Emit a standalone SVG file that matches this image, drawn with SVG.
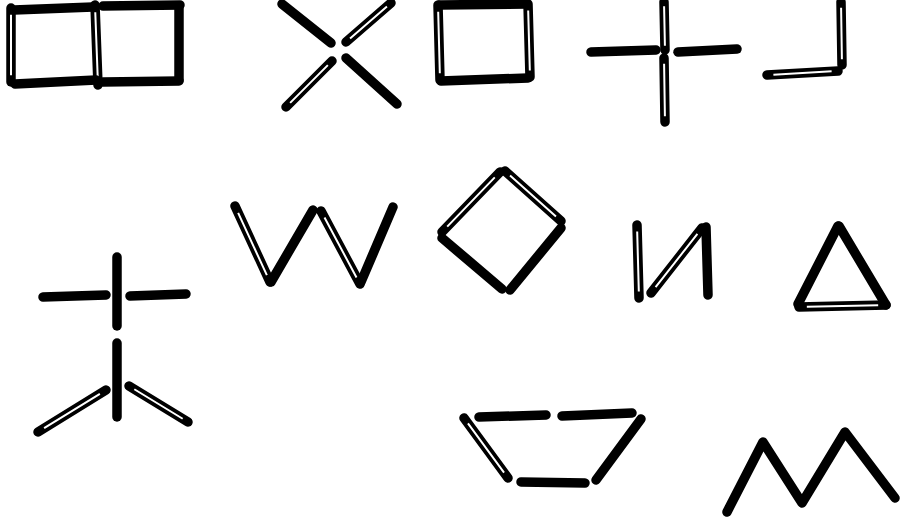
<svg xmlns="http://www.w3.org/2000/svg" width="902" height="525" viewBox="0 0 902 525">
<style>
.s{stroke:#000;stroke-width:9.5;stroke-linecap:round;fill:none}
.h{stroke:#fff;stroke-width:2;stroke-linecap:butt;fill:none;stroke-dasharray:0 9 82 9}
</style>
<rect width="902" height="525" fill="#fff"/>
<g id="double-square">
<line class="s" x1="11" y1="8" x2="11" y2="82"/><line class="h" pathLength="100" x1="11" y1="8" x2="11" y2="82"/>
<line class="s" x1="14" y1="10" x2="93" y2="7"/>
<line class="s" x1="95" y1="5" x2="98" y2="85"/><line class="h" pathLength="100" x1="95" y1="5" x2="98" y2="85"/>
<line class="s" x1="15" y1="84" x2="96" y2="80"/>
<line class="s" x1="103" y1="6" x2="180" y2="5"/>
<line class="s" x1="179" y1="6" x2="179" y2="80"/>
<line class="s" x1="103" y1="82" x2="179" y2="81"/>
</g>
<g id="cross-x">
<line class="s" x1="282" y1="4" x2="331" y2="43"/>
<line class="s" x1="346" y1="42" x2="391" y2="3"/><line class="h" pathLength="100" x1="346" y1="42" x2="391" y2="3"/>
<line class="s" x1="332" y1="61" x2="286" y2="107"/><line class="h" pathLength="100" x1="332" y1="61" x2="286" y2="107"/>
<line class="s" x1="346" y1="58" x2="397" y2="104"/>
</g>
<g id="square">
<line class="s" x1="438" y1="5" x2="440" y2="80"/><line class="h" pathLength="100" x1="438" y1="5" x2="440" y2="80"/>
<line class="s" x1="440" y1="5" x2="527" y2="4"/>
<line class="s" x1="528" y1="4" x2="530" y2="77"/><line class="h" pathLength="100" x1="528" y1="4" x2="530" y2="77"/>
<line class="s" x1="441" y1="81" x2="528" y2="78"/>
</g>
<g id="plus">
<line class="s" x1="664" y1="2" x2="665" y2="50"/><line class="h" pathLength="100" x1="664" y1="2" x2="665" y2="50"/>
<line class="s" x1="664" y1="58" x2="665" y2="122"/><line class="h" pathLength="100" x1="664" y1="58" x2="665" y2="122"/>
<line class="s" x1="591" y1="52" x2="656" y2="50"/>
<line class="s" x1="678" y1="52" x2="737" y2="49"/>
</g>
<g id="corner">
<line class="s" x1="841" y1="2" x2="842" y2="65"/><line class="h" pathLength="100" x1="841" y1="2" x2="842" y2="65"/>
<line class="s" x1="767" y1="75" x2="838" y2="71"/><line class="h" pathLength="100" x1="767" y1="75" x2="838" y2="71"/>
</g>
<g id="figure">
<line class="s" x1="117" y1="257" x2="117" y2="326"/>
<line class="s" x1="43" y1="297" x2="106" y2="295"/>
<line class="s" x1="130" y1="296" x2="186" y2="294"/>
<line class="s" x1="117" y1="343" x2="117" y2="417"/>
<line class="s" x1="38" y1="432" x2="106" y2="390"/><line class="h" pathLength="100" x1="38" y1="432" x2="106" y2="390"/>
<line class="s" x1="129" y1="386" x2="188" y2="422"/><line class="h" pathLength="100" x1="129" y1="386" x2="188" y2="422"/>
</g>
<g id="w">
<line class="s" x1="235" y1="206" x2="270" y2="282"/><line class="h" pathLength="100" x1="235" y1="206" x2="270" y2="282"/>
<line class="s" x1="271" y1="282" x2="313" y2="210"/>
<line class="s" x1="321" y1="211" x2="360" y2="284"/><line class="h" pathLength="100" x1="321" y1="211" x2="360" y2="284"/>
<line class="s" x1="361" y1="282" x2="393" y2="207"/>
</g>
<g id="diamond">
<line class="s" x1="442" y1="232" x2="500" y2="172"/><line class="h" pathLength="100" x1="442" y1="232" x2="500" y2="172"/>
<line class="s" x1="505" y1="171" x2="561" y2="221"/><line class="h" pathLength="100" x1="505" y1="171" x2="561" y2="221"/>
<line class="s" x1="561" y1="228" x2="510" y2="290"/>
<line class="s" x1="442" y1="238" x2="502" y2="289"/>
</g>
<g id="i-letter">
<line class="s" x1="637" y1="225" x2="639" y2="298"/><line class="h" pathLength="100" x1="637" y1="225" x2="639" y2="298"/>
<line class="s" x1="651" y1="293" x2="702" y2="228"/><line class="h" pathLength="100" x1="651" y1="293" x2="702" y2="228"/>
<line class="s" x1="706" y1="227" x2="708" y2="295"/>
</g>
<g id="triangle">
<line class="s" x1="838" y1="226" x2="798" y2="304"/>
<line class="s" x1="839" y1="226" x2="886" y2="305"/>
<line class="s" x1="799" y1="307" x2="886" y2="305"/><line class="h" pathLength="100" x1="799" y1="307" x2="886" y2="305"/>
</g>
<g id="trapezoid">
<line class="s" x1="479" y1="417" x2="546" y2="415"/>
<line class="s" x1="562" y1="416" x2="632" y2="413"/>
<line class="s" x1="464" y1="418" x2="508" y2="478"/><line class="h" pathLength="100" x1="464" y1="418" x2="508" y2="478"/>
<line class="s" x1="641" y1="419" x2="596" y2="480"/>
<line class="s" x1="521" y1="482" x2="585" y2="483"/>
</g>
<g id="m">
<polyline class="s" points="727,512 763,442 802,503 845,432 895,498" stroke-linejoin="round"/>
</g>
</svg>
